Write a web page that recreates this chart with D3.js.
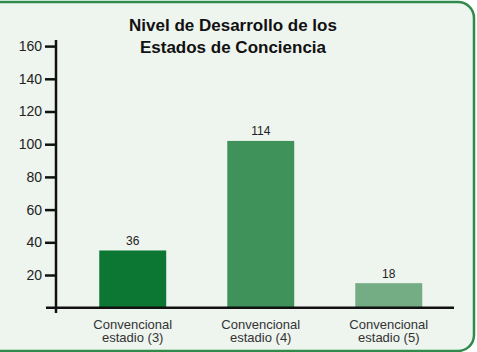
<!DOCTYPE html>
<html>
<head>
<meta charset="utf-8">
<script src="https://cdn.jsdelivr.net/npm/d3@7"></script>
<style>
  body { margin: 0; background: #ffffff; }
  svg { display: block; font-family: "Liberation Sans", Arial, sans-serif; }
</style>
</head>
<body>
<svg id="chart" width="477" height="352"></svg>
<script>
// data
var categories = ["Convencional estadio (3)", "Convencional estadio (4)", "Convencional estadio (5)"];
var barValues = [35, 102, 15];          // bar heights as drawn against the axis
var printedLabels = ["36", "114", "18"]; // numbers printed above the bars
var barColors = ["#0b7733", "#3f925a", "#74ad84"];
var yTicks = [20, 40, 60, 80, 100, 120, 140, 160];
var titleLines = ["Nivel de Desarrollo de los", "Estados de Conciencia"];

var svg = d3.select("#chart");

// panel with rounded green frame
svg.append("rect")
    .attr("x", -20).attr("y", 2)
    .attr("width", 494).attr("height", 349)
    .attr("rx", 16)
    .attr("fill", "#eef4ee")
    .attr("stroke", "#2f8a4c")
    .attr("stroke-width", 2.5);

// title
svg.append("g").selectAll("text")
    .data(titleLines)
    .enter().append("text")
    .attr("x", 233)
    .attr("y", function (d, i) { return 31 + i * 22; })
    .attr("text-anchor", "middle")
    .style("font-size", "17px")
    .style("font-weight", "bold")
    .attr("fill", "#111")
    .text(function (d) { return d; });

var x = d3.scaleBand()
    .domain(categories)
    .range([56, 465.5])
    .paddingInner(0.477)
    .paddingOuter(0.338);

var y = d3.scaleLinear()
    .domain([0, 160])
    .range([307.7, 46.1]);

// bars
svg.append("g").selectAll("rect")
    .data(categories)
    .enter().append("rect")
    .attr("x", function (d) { return x(d); })
    .attr("y", function (d, i) { return y(barValues[i]); })
    .attr("width", x.bandwidth())
    .attr("height", function (d, i) { return y(0) - y(barValues[i]); })
    .attr("fill", function (d, i) { return barColors[i]; });

// value labels
svg.append("g").selectAll("text")
    .data(categories)
    .enter().append("text")
    .attr("x", function (d) { return x(d) + x.bandwidth() / 2; })
    .attr("y", function (d, i) { return y(barValues[i]) - 5.5; })
    .attr("text-anchor", "middle")
    .style("font-size", "12px")
    .attr("fill", "#222")
    .text(function (d, i) { return printedLabels[i]; });

// y axis
var yAxis = d3.axisLeft(y)
    .tickValues(yTicks)
    .tickSize(11)
    .tickPadding(3);

var gy = svg.append("g")
    .attr("transform", "translate(56,0)")
    .call(yAxis);
gy.select(".domain").remove();
gy.selectAll(".tick line").attr("stroke", "#111").attr("stroke-width", 2.5);
gy.selectAll(".tick text")
    .attr("fill", "#222")
    .style("font-size", "14px")
    .style("font-family", "Liberation Sans, Arial, sans-serif");

svg.append("line")
    .attr("x1", 56).attr("x2", 56)
    .attr("y1", 40).attr("y2", 313)
    .attr("stroke", "#111").attr("stroke-width", 2.5);

// x axis
svg.append("line")
    .attr("x1", 46).attr("x2", 454)
    .attr("y1", y(0)).attr("y2", y(0))
    .attr("stroke", "#111").attr("stroke-width", 2.5);

var catLabels = svg.append("g").selectAll("text")
    .data(categories)
    .enter().append("text")
    .attr("text-anchor", "middle")
    .style("font-size", "13px")
    .attr("fill", "#333");

catLabels.selectAll("tspan")
    .data(function (d) {
        var cx = x(d) + x.bandwidth() / 2;
        var parts = d.split(" ");
        return [{ t: parts[0], cx: cx }, { t: parts.slice(1).join(" "), cx: cx }];
    })
    .enter().append("tspan")
    .attr("x", function (d) { return d.cx; })
    .attr("y", function (d, i) { return 328.5 + i * 13.5; })
    .text(function (d) { return d.t; });
</script>
</body>
</html>
